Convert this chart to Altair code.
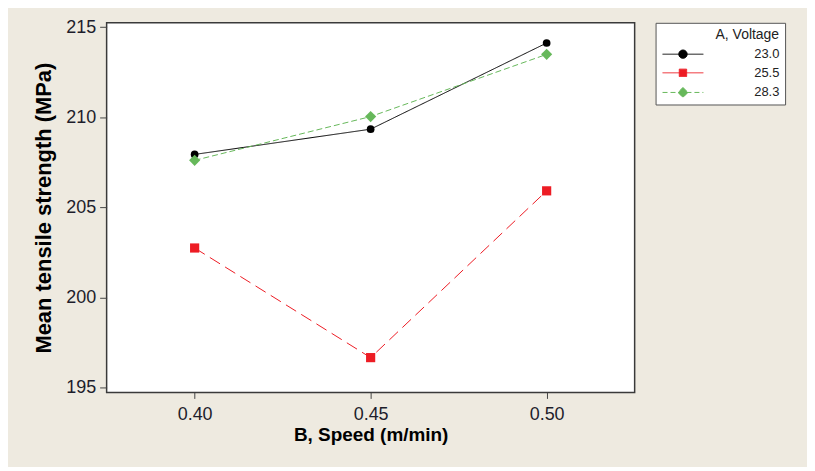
import altair as alt
import pandas as pd

# ---- data ----
speed = [0.40, 0.45, 0.50]
voltage_levels = ["23.0", "25.5", "28.3"]
tensile_23_0 = [207.94, 209.34, 214.12]
tensile_25_5 = [202.75, 196.67, 205.92]
tensile_28_3 = [207.61, 210.04, 213.49]
y_ticks = [195, 200, 205, 210, 215]
x_ticks = [0.40, 0.45, 0.50]

# ---- styles ----
colors = ["#000000", "#ED1C24", "#66B85A"]
dashes = [[1, 0], [12, 6], [6, 3]]
marker_shapes = ["circle", "square", "diamond"]
marker_sizes = [60, 85, 125]
legend_paths = [
    "M-4.1,0H4.1M-0.84,0A0.84,0.84,0,1,0,0.84,0A0.84,0.84,0,1,0,-0.84,0Z",
    "M-4.1,0H4.1M-0.74,-0.74H0.74V0.74H-0.74Z",
    "M-4.1,0H4.1M0,-1L1,0L0,1L-1,0Z",
]
legend_dashes = [[1, 0], [1, 0], [5, 3]]

FONT = "Liberation Sans"
FIELD = "A, Voltage"
PAD = "\u00a0\u00a0\u00a0"

rows = []
for v, vals in zip(voltage_levels, [tensile_23_0, tensile_25_5, tensile_28_3]):
    for s, t in zip(speed, vals):
        rows.append({"speed": s, FIELD: v, "tensile": t})
df = pd.DataFrame(rows)

x_enc = alt.X(
    "speed:Q",
    title="B, Speed (m/min)",
    scale=alt.Scale(domain=[0.375, 0.525], nice=False, zero=False),
    axis=alt.Axis(values=x_ticks, format=".2f", grid=False, domain=False,
                  tickSize=6, labelPadding=7, titlePadding=2),
)
y_enc = alt.Y(
    "tensile:Q",
    title="Mean tensile strength (MPa)",
    scale=alt.Scale(domain=[194.74, 215.24], nice=False, zero=False),
    axis=alt.Axis(values=y_ticks, grid=False, domain=False,
                  tickSize=7, labelPadding=4, titlePadding=10),
)

legend = alt.Legend(
    title=FIELD + PAD,
    orient="none", legendX=551, legendY=0,
    fillColor="white", strokeColor="#555555", padding=5, cornerRadius=0,
    titleFont=FONT, titleFontSize=14, titleFontWeight="normal", titleColor="#222222",
    titleAnchor="end", titlePadding=6,
    labelFont=FONT, labelFontSize=13, labelColor="#222222",
    labelExpr="datum.label + '" + PAD + "'",
    symbolSize=100, symbolStrokeWidth=1, symbolOffset=16, labelOffset=65,
    rowPadding=4.7,
)

lines = alt.Chart(df).mark_line(strokeWidth=1).encode(
    x=x_enc, y=y_enc,
    stroke=alt.Stroke(f"{FIELD}:N", scale=alt.Scale(domain=voltage_levels, range=colors), legend=None),
    strokeDash=alt.StrokeDash(f"{FIELD}:N", scale=alt.Scale(domain=voltage_levels, range=dashes), legend=None),
)

legend_dummy = alt.Chart(df).mark_point(filled=True, opacity=1).encode(
    x="speed:Q", y="tensile:Q",
    fill=alt.Fill(f"{FIELD}:N", scale=alt.Scale(domain=voltage_levels, range=colors), legend=legend),
    stroke=alt.Stroke(f"{FIELD}:N", scale=alt.Scale(domain=voltage_levels, range=colors), legend=legend),
    strokeDash=alt.StrokeDash(f"{FIELD}:N", scale=alt.Scale(domain=voltage_levels, range=legend_dashes), legend=legend),
    shape=alt.Shape(f"{FIELD}:N", scale=alt.Scale(domain=voltage_levels, range=legend_paths), legend=legend),
).transform_filter("false")

point_layers = []
for v, c, shp, sz in zip(voltage_levels, colors, marker_shapes, marker_sizes):
    point_layers.append(
        alt.Chart(df).mark_point(filled=True, opacity=1, shape=shp, size=sz, color=c, strokeWidth=0)
        .encode(x="speed:Q", y="tensile:Q")
        .transform_filter(alt.datum[FIELD] == v)
    )

chart = alt.layer(legend_dummy, lines, *point_layers).resolve_scale(
    stroke="independent", strokeDash="independent", fill="independent", shape="independent",
).properties(
    width=530, height=371,
    autosize=alt.AutoSizeParams(type="none"),
    padding={"left": 99, "top": 14, "right": 173, "bottom": 74},
    background="#EEEAE0",
).configure_view(
    fill="white", stroke="#3a3a3a", strokeWidth=1.5,
).configure_axis(
    labelFont=FONT, labelFontSize=18, labelColor="#1d1d2b",
    titleFont=FONT, titleFontWeight="bold", titleColor="#000000",
    tickColor="#444444", tickWidth=1,
).configure_axisX(titleFontSize=19).configure_axisY(titleFontSize=22)

chart.save("out.html", embed_options={"renderer": "svg", "actions": False})
